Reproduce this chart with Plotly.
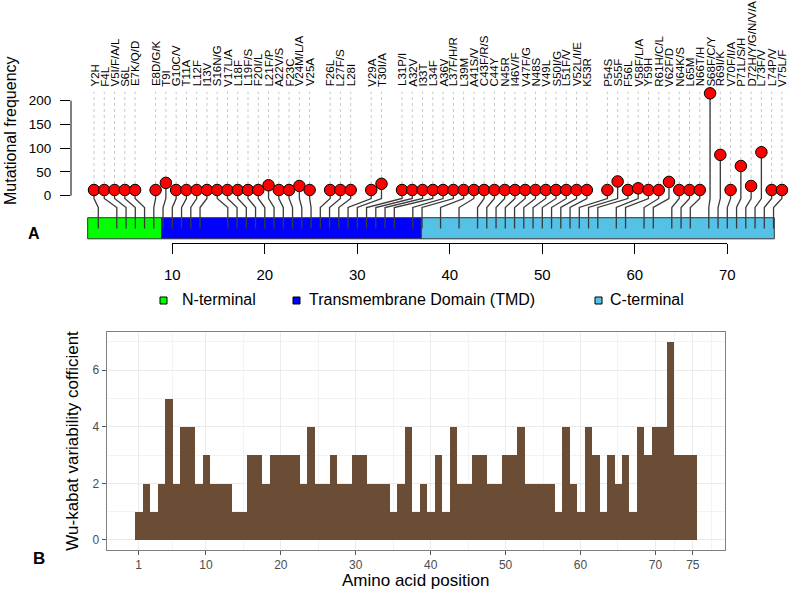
import numpy as np
import plotly.graph_objects as go

W, H = 790, 592

# ---------------- data: panel A (lollipop) ----------------
mut_labels = [
    "Y2H", "F4L", "V5I/F/A/L", "S6L", "E7K/Q/D",
    "E8D/G/K", "T9I", "G10C/V", "T11A", "L12F", "I13V", "S16N/G", "V17L/A", "L18F",
    "L19F/S", "F20I/L", "L21F/P", "A22V/S", "F23C", "V24M/L/A", "V25A",
    "F26L", "L27F/S", "L28I",
    "V29A", "T30I/A",
    "L31P/I", "A32V", "I33T", "L34F", "A36V", "L37F/H/R", "L39M", "A41S/V", "C43F/R/S",
    "C44Y", "N45R", "I46V/F", "V47F/G", "N48S", "V49L", "S50I/G", "L51F/V", "V52L/I/E", "K53R",
    "P54S", "S55F", "F56L", "V58F/L/A", "Y59H", "R61H/C/L", "V62F/D", "N64K/S", "L65M",
    "N66T/H", "S68F/C/Y", "R69I/K", "V70F/I/A", "P71L/S/H", "D72H/Y/G/N/V/A", "L73F/V",
    "L74P/V", "V75L/F",
]
mut_positions = [
    2, 4, 5, 6, 7,
    8, 9, 10, 11, 12, 13, 16, 17, 18, 19, 20, 21, 22, 23, 24, 25,
    26, 27, 28,
    29, 30,
    31, 32, 33, 34, 36, 37, 39, 41, 43, 44, 45, 46, 47, 48, 49, 50, 51, 52, 53,
    54, 55, 56, 58, 59, 61, 62, 64, 65, 66, 68, 69, 70, 71, 72, 73, 74, 75,
]
mut_freq = [
    12, 12, 12, 12, 12,
    12, 27, 12, 12, 12, 12, 12, 12, 12, 12, 12, 22, 12, 12, 20.5, 12,
    12, 12, 12,
    12, 25,
    12, 12, 12, 12, 12, 12, 12, 12, 12, 12, 12, 12, 12, 12, 12, 12, 12, 12, 12,
    12, 30, 12, 15.5, 12, 12, 29, 12, 12, 12, 215.5, 86, 12, 62.5, 20.5, 91.5, 12, 12,
]
label_group_sizes = [5, 16, 3, 2, 19, 18]

domain_names = ["N-terminal", "Transmembrane Domain (TMD)", "C-terminal"]
domain_start = [0.85, 8.85, 36.92]
domain_end = [8.85, 36.92, 75.08]
domain_colors = ["#00FF00", "#0000FF", "#56C1E6"]

freq_ticks = [0, 50, 100, 150, 200]
pos_ticks = [10, 20, 30, 40, 50, 60, 70]

# ---------------- data: panel B (Wu-Kabat) ----------------
wk_positions = list(range(1, 76))
wk_values = [
    1, 2, 1, 2, 5, 2, 4, 4, 2, 3,
    2, 2, 2, 1, 1, 3, 3, 2, 3, 3,
    3, 3, 2, 4, 2, 2, 3, 2, 2, 3,
    3, 2, 2, 2, 1, 2, 4, 1, 2, 1,
    3, 1, 4, 2, 2, 3, 3, 2, 2, 3,
    3, 4, 2, 2, 2, 2, 1, 4, 2, 1,
    4, 3, 1, 3, 2, 3, 1, 4, 3, 4,
    4, 7, 3, 3, 3,
]
wk_xticks = [1, 10, 20, 30, 40, 50, 60, 70, 75]
wk_yticks = [0, 2, 4, 6]

FONT = "Liberation Sans, Arial, Helvetica, sans-serif"


def px_x(p):
    return p / W


def px_y(p):
    return 1 - p / H


# ---- layout helpers for panel A (pixel calibration) ----
X_PER_UNIT = 9.25          # px per amino acid
X10_PX = 172.3             # pixel of position 10
Y0_PX = 195.7              # pixel of frequency 0
Y_PER_UNIT = 0.475         # px per frequency unit
TOP_BOTTOM_PX = 290.0
SPINE_PX = 71.0

xa_range = [10 - (X10_PX - SPINE_PX) / X_PER_UNIT, 10 + (W - X10_PX) / X_PER_UNIT]
ya_range = [(Y0_PX - TOP_BOTTOM_PX) / Y_PER_UNIT, Y0_PX / Y_PER_UNIT]


def ya_px(py):
    return (Y0_PX - py) / Y_PER_UNIT


# slot layout of the lollipops (one empty slot between label groups)
slots = []
k = 0
for size in label_group_sizes:
    for _ in range(size):
        slots.append(k)
        k += 1
    k += 1
slot_x = 1.535 + 1.110 * np.array(slots)

knee_top = ya_px(198.5)
knee_bot = ya_px(207.5)
stem_end = ya_px(228.5)
bar_top = ya_px(217.7)
bar_bot = ya_px(238.8)
dot_top = ya_px(91.7)

fig = go.Figure()

# background dotted guide lines
gx, gy = [], []
for sx in slot_x:
    gx += [sx, sx, None]
    gy += [12, dot_top, None]
fig.add_trace(go.Scatter(x=gx, y=gy, mode="lines", line=dict(color="#C8C8C8", width=1, dash="dot"),
                         hoverinfo="skip", showlegend=False))

# domain bars
for name, s, e, c in zip(domain_names, domain_start, domain_end, domain_colors):
    fig.add_trace(go.Scatter(x=[s, e, e, s, s], y=[bar_top, bar_top, bar_bot, bar_bot, bar_top],
                             mode="lines", fill="toself", fillcolor=c,
                             line=dict(color="#333333", width=1), name=name, showlegend=False))

# stems
sx_, sy_ = [], []
for x0, p, f in zip(slot_x, mut_positions, mut_freq):
    sx_ += [x0, x0, p, p, None]
    sy_ += [f, knee_top, knee_bot, stem_end, None]
fig.add_trace(go.Scatter(x=sx_, y=sy_, mode="lines", line=dict(color="#3A3A3A", width=1.3),
                         hoverinfo="skip", showlegend=False))

# heads
fig.add_trace(go.Scatter(x=slot_x, y=mut_freq, mode="markers", cliponaxis=False,
                         marker=dict(size=11.5, color="#FF0000", line=dict(color="#000000", width=1)),
                         text=mut_labels, hoverinfo="text", showlegend=False))

# position axis carrier (invisible, makes the x2 axis exist)
fig.add_trace(go.Scatter(x=[pos_ticks[0], pos_ticks[-1]], y=[0.5, 0.5], mode="markers",
                         marker=dict(opacity=0, size=1), xaxis="x2", yaxis="y2",
                         hoverinfo="skip", showlegend=False))

# panel B bars
fig.add_trace(go.Bar(x=wk_positions, y=wk_values, width=1, marker=dict(color="#6B4D36", line=dict(width=0)),
                     xaxis="x3", yaxis="y3", showlegend=False))

ann = []
for sx, lab in zip(slot_x, mut_labels):
    ann.append(dict(x=sx, y=px_y(87.5), xref="x", yref="paper", text=lab, textangle=-90,
                    xanchor="center", yanchor="bottom", showarrow=False,
                    font=dict(family=FONT, size=11.5, color="#000000"), borderpad=0))


def txt(x, y, text, size, angle=0, xanchor="center", yanchor="middle"):
    return dict(x=px_x(x), y=px_y(y), xref="paper", yref="paper", text=text, textangle=angle,
                xanchor=xanchor, yanchor=yanchor, showarrow=False, borderpad=0,
                font=dict(family=FONT, size=size, color="#000"))


ann.append(txt(10, 131, "Mutational frequency", 16, angle=-90))
ann.append(txt(34, 233, "<b>A</b>", 16))
ann.append(txt(39, 558, "<b>B</b>", 17))
ann.append(txt(415.7, 580, "Amino acid position", 17))
ann.append(txt(71.7, 441, "Wu-kabat variability cofficient", 17, angle=-90))

# legend
shapes = []
leg_sq_x = [160, 293, 595]
leg_tx_x = [180.5, 308.3, 609.3]
for name, c, sqx, tx in zip(domain_names, domain_colors, leg_sq_x, leg_tx_x):
    shapes.append(dict(type="rect", xref="paper", yref="paper", x0=px_x(sqx), x1=px_x(sqx + 7),
                       y0=px_y(304), y1=px_y(297), fillcolor=c, line=dict(color="#000", width=1)))
    ann.append(txt(tx, 299.5, name, 16, xanchor="left"))

# y spine of panel A (only over 0..200)
shapes.append(dict(type="line", xref="paper", yref="y", x0=px_x(SPINE_PX), x1=px_x(SPINE_PX),
                   y0=freq_ticks[0], y1=freq_ticks[-1], line=dict(color="#000", width=1)))

fig.update_layout(
    width=W, height=H, margin=dict(l=0, r=0, t=0, b=0, pad=0),
    paper_bgcolor="white", plot_bgcolor="rgba(0,0,0,0)",
    font=dict(family=FONT),
    showlegend=False,
    annotations=ann, shapes=shapes, bargap=0,
    xaxis=dict(domain=[px_x(SPINE_PX), 1], range=xa_range, showticklabels=False, ticks="",
               showline=False, showgrid=False, zeroline=False, fixedrange=True, automargin=False),
    yaxis=dict(domain=[px_y(TOP_BOTTOM_PX), 1], range=ya_range, anchor="x",
               tickvals=freq_ticks, ticks="outside", ticklen=10, tickcolor="#000", tickwidth=1,
               showline=False, showgrid=False, zeroline=False, ticklabelstandoff=6, automargin=False,
               tickfont=dict(family=FONT, size=13.5, color="#000")),
    xaxis2=dict(domain=[px_x(X10_PX), px_x(X10_PX + 60 * X_PER_UNIT)], range=[10, 70], anchor="y2",
                tickvals=pos_ticks, ticks="outside", ticklen=10.5, tickcolor="#000", automargin=False,
                showline=True, linecolor="#000", linewidth=1, showgrid=False, zeroline=False,
                ticklabelstandoff=8,
                tickfont=dict(family=FONT, size=15, color="#000")),
    yaxis2=dict(domain=[px_y(242.7), px_y(242.7) + 0.004], anchor="x2", range=[0, 1], automargin=False,
                showticklabels=False, showgrid=False, zeroline=False, showline=False, ticks=""),
    xaxis3=dict(domain=[px_x(106.7), px_x(724.7)], range=[-3.25, 79.25], anchor="y3", automargin=False,
                tickvals=wk_xticks, ticks="outside", ticklen=4, tickcolor="#555",
                showline=True, linecolor="#808080", linewidth=1, mirror=True,
                showgrid=True, gridcolor="#EBEBEB", gridwidth=1, zeroline=False,
                minor=dict(tickvals=[-3.5, 5.5, 15, 25, 35, 45, 55, 65, 72.5, 77.5], showgrid=True,
                           gridcolor="#F3F3F3", gridwidth=0.6, ticks=""),
                tickfont=dict(family=FONT, size=12, color="#4D4D4D")),
    yaxis3=dict(domain=[px_y(549.9), px_y(331.8)], range=[-0.35, 7.35], anchor="x3", automargin=False,
                tickvals=wk_yticks, ticks="outside", ticklen=4, tickcolor="#555",
                showline=True, linecolor="#808080", linewidth=1, mirror=True,
                showgrid=True, gridcolor="#EBEBEB", gridwidth=1, zeroline=False,
                minor=dict(tickvals=[1, 3, 5, 7], showgrid=True, gridcolor="#F3F3F3", gridwidth=0.6, ticks=""),
                tickfont=dict(family=FONT, size=12, color="#4D4D4D")),
)

fig.write_html("out.html", config={"displayModeBar": False},
               post_script="document.body.style.margin='0px';")
